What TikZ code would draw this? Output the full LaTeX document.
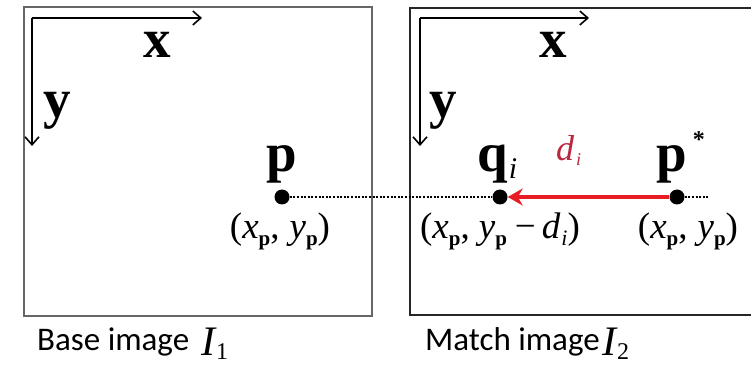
\documentclass[tikz,border=0pt]{standalone}
\usepackage{fontspec}
\setmainfont{Liberation Serif}
\newfontfamily\capfont{Carlito}
\usetikzlibrary{arrows.meta}
\definecolor{shiftred}{RGB}{232,28,36}
\definecolor{labelred}{RGB}{185,40,60}
\newcommand{\subp}{\raisebox{-7pt}{\fontsize{21}{21}\selectfont\bfseries p}}
\newcommand{\subi}{\raisebox{-7pt}{\fontsize{22}{22}\selectfont\itshape i}}

\tikzset{
  frame/.style={draw=black!60, line width=1.3pt},
  axis/.style={line width=1.6pt, -{Straight Barb[length=8pt,width=14pt]}},
  axlabel/.style={font=\fontsize{55}{55}\selectfont\bfseries, inner sep=0pt, anchor=base},
  coordlabel/.style={font=\fontsize{37}{37}\selectfont, inner sep=0pt, anchor=base},
  caption/.style={font=\fontsize{33}{33}\selectfont\capfont, inner sep=0pt, anchor=base west},
  imgname/.style={font=\fontsize{42}{42}\selectfont\itshape, inner sep=0pt, anchor=base west},
  dot/.style={circle, fill=black, inner sep=0pt, minimum size=15pt},
  link/.style={line width=2pt, dash pattern=on 2pt off 1.6pt},
  disparity/.style={draw=shiftred, line width=4pt, -{Stealth[length=15pt,width=17pt]}},
}

\begin{document}
\begin{tikzpicture}[x=1pt, y=-1pt]
  \useasboundingbox (0,0) rectangle (751,371);

  % the two images
  \draw[frame] (24,7) rectangle (372,316);
  \draw[frame, draw=black!85] (751,8) -- (410,8) -- (410,315) -- (751,315);

  % axes of base image
  \coordinate (o1) at (32,18);
  \coordinate (x1) at (202,18);
  \coordinate (y1) at (32,146);
  \draw[axis] (o1) -- (x1);
  \draw[axis] (o1) -- (y1);
  \node[axlabel] (lx1) at (157,58) {x};
  \node[axlabel] (ly1) at (57,118) {y};

  % axes of match image
  \coordinate (o2) at (420,18);
  \coordinate (x2) at (589,18);
  \coordinate (y2) at (420,146);
  \draw[axis] (o2) -- (x2);
  \draw[axis] (o2) -- (y2);
  \node[axlabel] (lx2) at (553,58) {x};
  \node[axlabel] (ly2) at (443,118) {y};

  % points
  \node[dot] (p) at (282,197) {};
  \node[dot] (q) at (500,197) {};
  \node[dot] (pstar) at (677,197) {};
  \coordinate (tail) at (709,197);

  \node[axlabel] (lp) at (282,172) {p};
  \node[axlabel, anchor=base west] (lq) at (477,172) {q\kern1pt\raisebox{-6pt}{\fontsize{30}{30}\selectfont\mdseries\itshape i}};
  \node[axlabel, anchor=base west] (lps) at (656,172) {p\kern6pt\raisebox{24pt}{\fontsize{24}{24}\selectfont *}};
  \node[coordlabel, font=\fontsize{36}{36}\selectfont\itshape, text=labelred, anchor=base west] (ld) at (556,161) {d\kern2pt\raisebox{-5pt}{\fontsize{18}{18}\selectfont i}};

  \node[coordlabel] (cp) at (280,238) {(\textit{x}\subp,\kern10pt\textit{y}\subp)};
  \node[coordlabel] (cq) at (500,238) {(\textit{x}\subp,\kern9pt\textit{y}\subp\kern8pt−\kern6pt\textit{d}\kern1pt\subi)};
  \node[coordlabel] (cps) at (688,238) {(\textit{x}\subp,\kern10pt\textit{y}\subp)};

  % correspondence
  \draw[link] (p) -- (q);
  \draw[link] (pstar) -- (tail);
  \draw[disparity] (pstar) -- (q);

  % captions
  \node[caption] (cap1) at (37,350) {Base image};
  \node[imgname] (i1) at (201,355) {I\kern1pt\raisebox{-4pt}{\fontsize{24}{24}\selectfont\upshape 1}};
  \node[caption] (cap2) at (425,350) {Match image};
  \node[imgname] (i2) at (602,355) {I\kern1pt\raisebox{-4pt}{\fontsize{24}{24}\selectfont\upshape 2}};
\end{tikzpicture}
\end{document}
